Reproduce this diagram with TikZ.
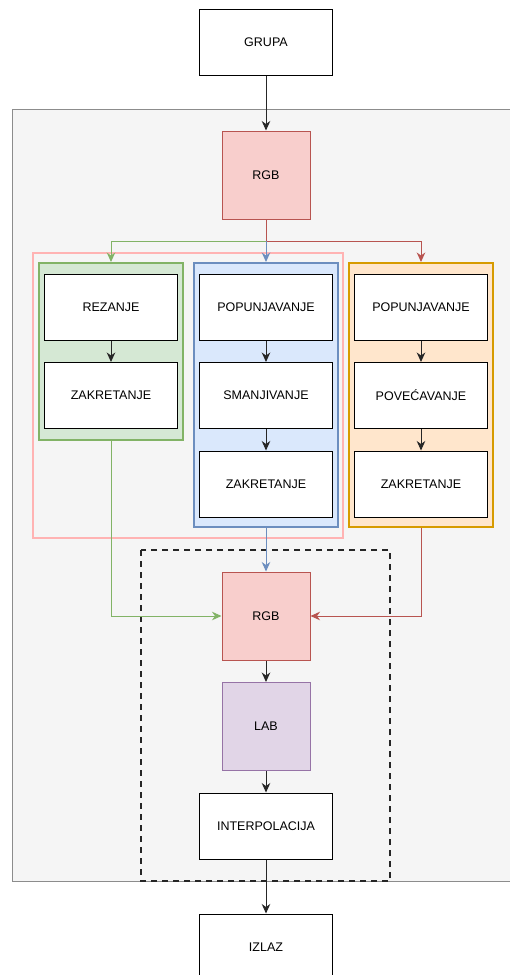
\documentclass[tikz,border=0pt]{standalone}
\usepackage{fontspec}
\setmainfont{Liberation Sans}
\usetikzlibrary{arrows.meta}
\definecolor{bggray}{HTML}{F5F5F5}
\definecolor{bgedge}{HTML}{8C8C8C}
\definecolor{redfill}{HTML}{F8CECC}
\definecolor{rededge}{HTML}{B85450}
\definecolor{greenfill}{HTML}{D5E8D4}
\definecolor{greenedge}{HTML}{82B366}
\definecolor{bluefill}{HTML}{DAE8FC}
\definecolor{blueedge}{HTML}{6C8EBF}
\definecolor{orangefill}{HTML}{FFE6CC}
\definecolor{orangeedge}{HTML}{D79B00}
\definecolor{purplefill}{HTML}{E1D5E7}
\definecolor{purpleedge}{HTML}{9673A6}
\definecolor{pinkedge}{HTML}{FFB3B3}

\begin{document}
\begin{tikzpicture}[x=1pt, y=-1pt, line join=miter,
        >={Stealth[length=9.5pt, width=8.5pt, inset=3pt]},
        stepbox/.style={shape=rectangle, draw=black, fill=white, line width=1pt,
            minimum width=133pt, minimum height=66pt, inner sep=0pt,
            font=\fontsize{12.5}{15}\selectfont},
        rgbbox/.style={stepbox, fill=redfill, draw=rededge, minimum width=88pt, minimum height=88pt},
        labbox/.style={stepbox, fill=purplefill, draw=purpleedge, minimum width=88pt, minimum height=88pt},
        groupbox/.style={shape=rectangle, line width=2pt, minimum width=144pt, inner sep=0pt},
        greengroup/.style={groupbox, fill=greenfill, draw=greenedge, minimum height=177pt},
        bluegroup/.style={groupbox, fill=bluefill, draw=blueedge, minimum height=264pt},
        orangegroup/.style={groupbox, fill=orangefill, draw=orangeedge, minimum height=264pt},
        flow/.style={->, line width=1pt, draw=black!85},
        greenflow/.style={->, line width=1pt, draw=greenedge},
        blueflow/.style={->, line width=1pt, draw=blueedge},
        redflow/.style={->, line width=1pt, draw=rededge}]
        \useasboundingbox (0,0) rectangle (510,975);
        % Background panels
        \fill[bggray] (12,109) rectangle (530,881);
        \draw[bgedge, line width=1pt] (530,109) -- (12,109) -- (12,881) -- (530,881);
        \draw[pinkedge, line width=2pt] (33,253) rectangle (343,538);
        \draw[black!85, line width=2pt, dash pattern=on 6pt off 5pt] (141,550) rectangle (390,881);
        % Groups
        \node[greengroup] (grpcut) at (111,351.5) {};
        \node[bluegroup] (grpshrink) at (266,395) {};
        \node[orangegroup] (grpgrow) at (421,395) {};
        % Nodes
        \node[stepbox] (grupa) at (266,42.5) {GRUPA};
        \node[rgbbox] (rgbin) at (266,175) {RGB};
        \node[stepbox] (rezanje) at (111,307) {REZANJE};
        \node[stepbox] (zakretanjeA) at (111,395.5) {ZAKRETANJE};
        \node[stepbox] (popunjavanjeB) at (266,307) {POPUNJAVANJE};
        \node[stepbox] (smanjivanje) at (266,395.5) {SMANJIVANJE};
        \node[stepbox] (zakretanjeB) at (266,484) {ZAKRETANJE};
        \node[stepbox] (popunjavanjeC) at (421,307) {POPUNJAVANJE};
        \node[stepbox] (povecavanje) at (421,395.5) {POVEĆAVANJE};
        \node[stepbox] (zakretanjeC) at (421,484) {ZAKRETANJE};
        \node[rgbbox] (rgbout) at (266,616) {RGB};
        \node[labbox] (lab) at (266,726.5) {LAB};
        \node[stepbox] (interp) at (266,826) {INTERPOLACIJA};
        \node[stepbox] (izlaz) at (266,947) {IZLAZ};
        \coordinate (split) at (266,241);
        % Arrows
        \draw[flow] (grupa) -- (rgbin);
        \draw[greenflow] (split) -| (grpcut.north);
        \draw[redflow] (rgbin.south) -- (split) -| (grpgrow.north);
        \draw[blueflow] (split) -- (grpshrink.north);
        \draw[flow] (rezanje) -- (zakretanjeA);
        \draw[flow] (popunjavanjeB) -- (smanjivanje);
        \draw[flow] (smanjivanje) -- (zakretanjeB);
        \draw[flow] (popunjavanjeC) -- (povecavanje);
        \draw[flow] (povecavanje) -- (zakretanjeC);
        \draw[greenflow] (grpcut.south) |- (rgbout.west);
        \draw[blueflow] (grpshrink.south) -- (rgbout.north);
        \draw[redflow] (grpgrow.south) |- (rgbout.east);
        \draw[flow] (rgbout) -- (lab);
        \draw[flow] (lab) -- (interp);
        \draw[flow] (interp) -- (izlaz);
\end{tikzpicture}
\end{document}
